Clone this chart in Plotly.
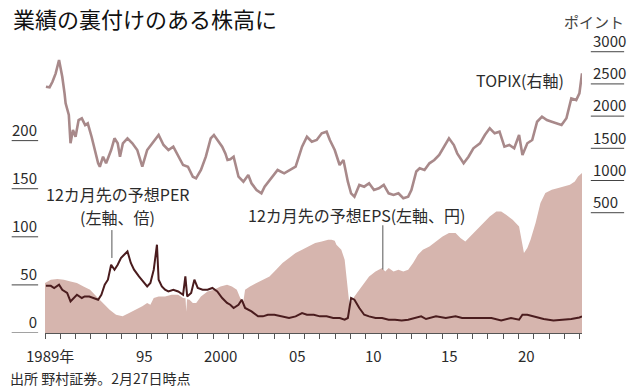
import plotly.graph_objects as go

# ---------------- data ----------------
topix_t = [1989.06, 1989.3, 1989.49, 1989.7, 1989.92, 1990.13, 1990.28, 1990.35, 1990.56, 1990.67,
           1990.83, 1991.0, 1991.2, 1991.41, 1991.63, 1991.8, 1992.05, 1992.27, 1992.48, 1992.59,
           1992.8, 1993.0, 1993.33, 1993.55, 1993.76, 1993.91, 1994.1, 1994.4, 1994.72, 1995.04,
           1995.37, 1995.69, 1996.12, 1996.44, 1996.76, 1997.08, 1997.4, 1997.72, 1998.04, 1998.36,
           1998.68, 1998.89, 1999.21, 1999.53, 1999.85, 2000.06, 2000.28, 2000.6, 2000.81, 2000.95,
           2001.13, 2001.35, 2001.67, 2001.99, 2002.31, 2002.52, 2002.85, 2003.17, 2003.38, 2003.81,
           2004.23, 2004.66, 2005.09, 2005.41, 2005.83, 2006.15, 2006.47, 2006.79, 2007.12, 2007.44,
           2007.65, 2007.97, 2008.29, 2008.54, 2008.83, 2009.04, 2009.26, 2009.58, 2009.9, 2010.22,
           2010.54, 2010.86, 2011.18, 2011.5, 2011.82, 2012.14, 2012.46, 2012.78, 2012.99, 2013.31,
           2013.53, 2013.85, 2014.17, 2014.49, 2014.81, 2015.13, 2015.45, 2015.77, 2015.99, 2016.41,
           2016.73, 2017.05, 2017.48, 2017.8, 2018.12, 2018.44, 2018.76, 2019.08, 2019.4, 2019.72,
           2020.04, 2020.26, 2020.58, 2020.9, 2021.22, 2021.54, 2021.86, 2022.18, 2022.5, 2022.82,
           2023.14, 2023.46, 2023.78, 2023.99, 2024.16]
topix_v = [2457, 2447, 2534, 2664, 2871, 2612, 2354, 2199, 2017, 1578,
           1784, 1680, 1939, 1966, 1862, 1888, 1680, 1474, 1267, 1214,
           1370, 1267, 1474, 1655, 1578, 1370, 1578, 1655, 1578, 1474,
           1214, 1474, 1602, 1707, 1551, 1474, 1525, 1370, 1241, 1214,
           1059, 1034, 1163, 1370, 1655, 1707, 1629, 1525, 1420, 1318,
           1330, 1370, 1059, 982, 1085, 957, 853, 801, 904, 1034,
           1163, 1112, 1163, 1214, 1525, 1680, 1602, 1629, 1733, 1758,
           1629, 1474, 1241, 1318, 982, 801, 749, 931, 904, 957,
           853, 879, 931, 801, 775, 801, 724, 749, 853, 1140,
           1190, 1163, 1267, 1318, 1396, 1525, 1655, 1551, 1422, 1267,
           1370, 1500, 1578, 1707, 1810, 1733, 1758, 1525, 1551, 1500,
           1707, 1396, 1578, 1629, 1913, 1991, 1939, 1913, 1888, 1862,
           1966, 2276, 2250, 2354, 2664]

per_t = [1989.06, 1989.38, 1989.6, 1989.92, 1990.13, 1990.45, 1990.67, 1990.88, 1991.09, 1991.41,
         1991.6, 1991.9, 1992.16, 1992.48, 1992.69, 1992.91, 1993.12, 1993.33, 1993.55, 1993.76,
         1993.97, 1994.19, 1994.4, 1994.62, 1994.83, 1995.15, 1995.47, 1995.69, 1995.9, 1996.12,
         1996.33, 1996.44, 1996.65, 1996.86, 1997.08, 1997.4, 1997.72, 1998.04, 1998.19, 1998.31,
         1998.57, 1998.78, 1999.0, 1999.32, 1999.64, 1999.96, 2000.28, 2000.6, 2000.92, 2001.13,
         2001.35, 2001.67, 2001.88, 2002.1, 2002.52, 2002.95, 2003.27, 2003.59, 2004.02, 2004.45,
         2004.98, 2005.41, 2005.83, 2006.15, 2006.6, 2007.0, 2007.44, 2007.87, 2008.3, 2008.62,
         2008.83, 2009.04, 2009.26, 2009.58, 2009.9, 2010.22, 2010.64, 2011.07, 2011.5, 2011.92,
         2012.35, 2012.78, 2013.21, 2013.63, 2013.95, 2014.6, 2015.24, 2015.88, 2016.31, 2016.95,
         2017.59, 2018.23, 2018.87, 2019.51, 2020.04, 2020.26, 2020.58, 2021.01, 2021.65, 2022.29,
         2022.93, 2023.46, 2023.99, 2024.16]
per_v = [49, 49, 46.8, 50.2, 45, 41.6, 32.9, 36.4, 39.8, 36.4,
         38, 38, 36.4, 34.6, 39.8, 50.2, 55.4, 71, 65.8, 71,
         78, 81.4, 84.8, 72.8, 65.8, 58.8, 52, 48.4, 52, 65.8,
         91.8, 55.4, 48.4, 45, 43.2, 45, 43.2, 39.8, 58.8, 38,
         41.6, 55.4, 46.8, 45, 45, 46.8, 43.2, 36.4, 31.2, 29.4,
         26, 29.4, 34.6, 26, 22.5, 17.3, 17.3, 19, 19, 17.3,
         15.6, 17.3, 20.8, 19, 19, 17.3, 17.3, 15.6, 15.6, 13.8,
         15.6, 36.4, 34.6, 26, 19, 17.3, 15.6, 15.6, 13.8, 13.8,
         13.1, 13.8, 15.6, 17.3, 14.5, 17.3, 15.6, 17.3, 15.6, 15.6,
         16.2, 15.6, 13.1, 15.6, 13.8, 19, 19, 17.3, 14.5, 13.1,
         13.8, 14.5, 16.2, 17.3]

eps_t = [1989.0, 1989.38, 1989.81, 1990.24, 1990.67, 1991.09, 1991.52, 1991.95, 1992.37, 1992.8,
         1993.23, 1993.65, 1994.08, 1994.51, 1994.94, 1995.37, 1995.69, 1995.9, 1996.12, 1996.44,
         1996.86, 1997.29, 1997.72, 1998.04, 1998.2, 1998.25, 1998.3, 1998.46, 1998.68, 1998.9,
         1999.21, 1999.64, 2000.06, 2000.49, 2000.92, 2001.24, 2001.56, 2001.78, 2001.99, 2002.1,
         2002.42, 2002.85, 2003.27, 2003.7, 2004.13, 2004.55, 2004.98, 2005.41, 2005.83, 2006.26,
         2006.69, 2007.12, 2007.54, 2007.76, 2007.97, 2008.08, 2008.4, 2008.62, 2008.76, 2008.93,
         2009.04, 2009.26, 2009.58, 2009.9, 2010.22, 2010.64, 2011.07, 2011.28, 2011.5, 2011.82,
         2012.14, 2012.46, 2012.78, 2013.1, 2013.42, 2013.74, 2014.17, 2014.6, 2015.03, 2015.45,
         2015.88, 2016.2, 2016.52, 2016.84, 2017.27, 2017.69, 2018.12, 2018.55, 2018.87, 2019.19,
         2019.62, 2020.04, 2020.19, 2020.36, 2020.58, 2020.79, 2021.12, 2021.44, 2021.76, 2022.18,
         2022.61, 2023.04, 2023.37, 2023.69, 2023.9, 2024.16]
eps_v = [52, 55.4, 56.1, 55.4, 53.6, 52, 48.4, 45, 38, 31.2,
         24.2, 19, 17.3, 20.8, 24.2, 27.7, 31.2, 29.4, 36.4, 38,
         38, 39.8, 39.8, 36.4, 36, 22, 35, 34.6, 31.2, 31.2,
         38, 43.2, 45, 48.4, 50.2, 48.4, 45, 36.4, 32.9, 45,
         48.4, 52, 55.4, 58.8, 65.8, 72.8, 78, 83.2, 86.6, 90,
         93.6, 95.2, 97, 97, 96, 91.8, 86.6, 76.2, 52, 30,
         32, 38, 45, 52, 58.8, 64, 67.6, 64, 67.6, 64,
         65.8, 64, 65.8, 72.8, 81.4, 86.6, 90, 95.2, 100.4, 104,
         104, 98.8, 95.2, 100.4, 107.4, 114.3, 121.2, 126.4, 126.4, 123,
         117.8, 110.8, 97, 83.2, 88.4, 97, 114.3, 135.1, 145.5, 149,
         150.7, 152.4, 154.2, 157.6, 162.8, 166.3]

left_ticks = [0, 50, 100, 150, 200]
right_ticks = [500, 1000, 1500, 2000, 2500, 3000]
year_ticks = list(range(1989, 2025))
year_labels = {1989: "1989年", 1995: "95", 2000: "2000", 2005: "05", 2010: "10",
               2015: "15", 2020: "20", 2024: "24"}

# ---------------- styling ----------------
FONT = "Noto Sans CJK JP, Noto Sans, sans-serif"
TXT = "#2b2b2b"
C_EPS = "#d6b5ae"
C_TOPIX = "#a8898a"
C_PER = "#4a1c1e"

W, H = 638, 391
ML, MR, MT, MB = 41, 49, 40, 58
PW = W - ML - MR
PH = H - MT - MB


def px_x(px):
    return (px - ML) / PW


def px_y(py):
    return (H - MB - py) / PH


fig = go.Figure()

fig.add_trace(go.Scatter(x=eps_t, y=eps_v, mode="lines", fill="tozeroy",
                         fillcolor=C_EPS, line=dict(width=0, color=C_EPS),
                         hoverinfo="skip", showlegend=False))
fig.add_trace(go.Scatter(x=per_t, y=per_v, mode="lines",
                         line=dict(width=2, color=C_PER), showlegend=False))
fig.add_trace(go.Scatter(x=topix_t, y=topix_v, mode="lines", yaxis="y2",
                         line=dict(width=2.6, color=C_TOPIX), showlegend=False))

shapes = []
ann = []
for v in left_ticks:
    shapes.append(dict(type="line", xref="paper", yref="y",
                       x0=px_x(7), x1=px_x(34), y0=v, y1=v,
                       line=dict(color="#444", width=1)))
for v in right_ticks:
    shapes.append(dict(type="line", xref="paper", yref="y2",
                       x0=px_x(598), x1=px_x(632), y0=v, y1=v,
                       line=dict(color="#444", width=1)))

# leader lines
shapes.append(dict(type="line", xref="x", yref="y", x0=1993.38, x1=1993.38,
                   y0=78, y1=107, line=dict(color="#555", width=1)))
shapes.append(dict(type="line", xref="x", yref="y", x0=2011.12, x1=2011.12,
                   y0=66, y1=112, line=dict(color="#555", width=1)))

for yr, lab in year_labels.items():
    xpos = yr + 0.5 if yr != 2024 else 2024.38
    if yr == 1989:
        xpos = 1989.3
    ann.append(dict(x=xpos, y=px_y(355), xref="x", yref="paper", text=lab, showarrow=False,
                    yanchor="middle", font=dict(size=15, color=TXT, family=FONT)))

ann.append(dict(x=1993.75, y=144, xref="x", yref="y",
                text="12カ月先の予想PER", showarrow=False,
                font=dict(size=16, color=TXT, family=FONT)))
ann.append(dict(x=1993.75, y=120.5, xref="x", yref="y",
                text="(左軸、倍)", showarrow=False,
                font=dict(size=16, color=TXT, family=FONT)))
ann.append(dict(x=2009.4, y=123, xref="x", yref="y",
                text="12カ月先の予想EPS(左軸、円)", showarrow=False,
                font=dict(size=16, color=TXT, family=FONT)))
ann.append(dict(x=2020.1, y=2560, xref="x", yref="y2",
                text="TOPIX(右軸)", showarrow=False,
                font=dict(size=16, color=TXT, family=FONT)))

ann.append(dict(x=px_x(6), y=px_y(18), xref="paper", yref="paper", xanchor="left",
                yanchor="middle", text="業績の裏付けのある株高に", showarrow=False,
                font=dict(size=22, color="#111", family=FONT)))
ann.append(dict(x=px_x(634), y=px_y(22), xref="paper", yref="paper",
                xanchor="right", yanchor="middle", text="ポイント", showarrow=False,
                font=dict(size=15, color="#444", family=FONT)))
ann.append(dict(x=px_x(3), y=px_y(378), xref="paper", yref="paper", xanchor="left",
                yanchor="middle", text="出所 野村証券。2月27日時点", showarrow=False,
                font=dict(size=14, color=TXT, family=FONT)))

fig.update_layout(
    width=W, height=H, margin=dict(l=ML, r=MR, t=MT, b=MB),
    paper_bgcolor="white", plot_bgcolor="white",
    font=dict(family=FONT, color=TXT),
    xaxis=dict(range=[1989.0, 2024.16], tickvals=year_ticks, showticklabels=False,
               ticks="outside", ticklen=5, tickcolor="#555", tickwidth=1,
               showline=True, linecolor="#555", linewidth=1, showgrid=False, zeroline=False),
    yaxis=dict(range=[0, 304.6], tickvals=left_ticks, ticks="", showgrid=False,
               zeroline=False, showline=False,
               tickfont=dict(size=15, color=TXT, family=FONT),
               ticklabelshift=-10, ticklabelstandoff=7),
    yaxis2=dict(range=[-1368, 3182], tickvals=right_ticks, overlaying="y", side="right",
                ticks="", showgrid=False, zeroline=False, showline=False,
                tickfont=dict(size=15, color=TXT, family=FONT),
                ticklabelshift=-10, ticklabelstandoff=10),
    shapes=shapes, annotations=ann, showlegend=False,
)

fig.write_html("out.html", config={"displayModeBar": False},
               post_script="document.body.style.margin='0';document.body.style.overflow='hidden';")
